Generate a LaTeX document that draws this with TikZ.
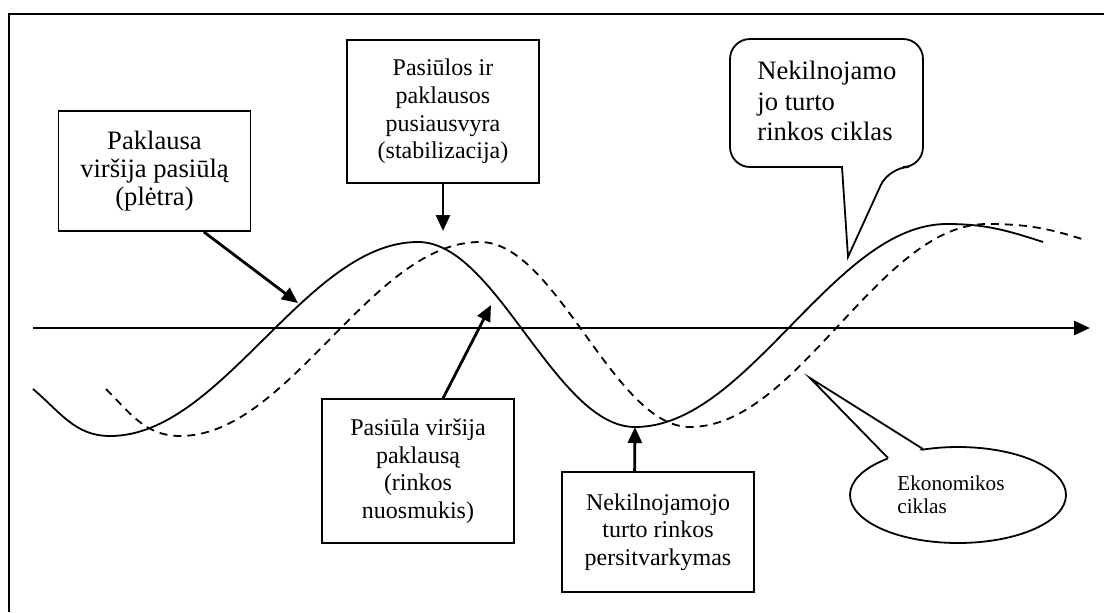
\documentclass[tikz,border=0pt]{standalone}
\usepackage{fontspec}
\setmainfont{Liberation Serif}
\usetikzlibrary{arrows.meta,shapes.geometric}

\begin{document}
\begin{tikzpicture}[x=0.5pt,y=-0.5pt,
	riq/.style={draw,line width=0.9pt,minimum width=96pt,align=center,inner sep=0pt},
	freccia/.style={line width=1.4pt,-{Triangle[length=8pt,width=7pt]}},
	onda/.style={line width=0.9pt}]
	\useasboundingbox (0,0) rectangle (1104,612);
	\draw[line width=1pt] (9,612) -- (9,14) -- (1104,14);
	% asse
	\coordinate (a0) at (33,328);
	\coordinate (a1) at (1090,328);
	\draw[freccia] (a0) -- (a1);
	% ciclo immobiliare
	\draw[onda] (33,389) to[out=-40,in=180] (110,436) cos (264,339) sin (418,242) cos (526,334.5) sin (635,427) cos (791,325.5) sin (947,224) to[out=0,in=162] (1043,242);
	% ciclo economico
	\draw[onda,dash pattern=on 4pt off 3pt] (106,389) to[out=-45,in=180] (180,436) cos (330,339) sin (480,242) cos (585,334.5) sin (690,427) cos (838.5,325.5) sin (987,224) to[out=0,in=162] (1085,240);
	% riquadri
	\node[riq,minimum height=60pt,font=\fontsize{13.3}{13.9}\selectfont] (paklausa) at (154.5,171) {Paklausa\\viršija pasiūlą\\(plėtra)};
	\node[riq,minimum height=71.5pt,font=\fontsize{12}{13.8}\selectfont] (pusiausvyra) at (443,111.5) {Pasiūlos ir\\paklausos\\pusiausvyra\\(stabilizacija)};
	\node[riq,minimum height=72pt,font=\fontsize{12}{13.8}\selectfont] (nuosmukis) at (418,471) {Pasiūla viršija\\paklausą\\(rinkos\\nuosmukis)};
	\node[riq,minimum height=60pt,font=\fontsize{12}{13.8}\selectfont] (persitvarkymas) at (658,532) {Nekilnojamojo\\turto rinkos\\persitvarkymas};
	% frecce
	\coordinate (p1) at (298,303);
	\coordinate (p2) at (443,231);
	\coordinate (p3) at (491,305);
	\coordinate (p4) at (635,427);
	\draw[freccia] (paklausa.-51) -- (p1);
	\draw[freccia] (pusiausvyra.south) -- (p2);
	\draw[freccia] (nuosmukis.71) -- (p3);
	\draw[freccia] (persitvarkymas.111) -- (p4);
	% fumetto
	\coordinate (nt) at (848,257);
	\draw[line width=0.9pt,rounded corners=10pt] (842,167) -- (730,167) -- (730,39) -- (923,39) -- (923,167) -- (889,167) [sharp corners] -- (nt) -- cycle;
	\node[align=left,inner sep=0pt,anchor=north west,font=\fontsize{13.3}{15.25}\selectfont] (nturtas) at (757,61) {Nekilnojamo\\jo turto\\rinkos ciklas};
	% ellisse
	\node[draw,ellipse,line width=0.9pt,minimum width=108pt,minimum height=48pt] (ekonomika) at (958,495) {};
	\coordinate (ek) at (810,378);
	\fill[white] (889,460) -- (ek) -- (922,451) -- cycle;
	\draw[line width=0.9pt] (888,458) -- (ek) -- (923,449);
	\node[align=left,inner sep=0pt,anchor=west,font=\fontsize{10.6}{11.5}\selectfont] (ekcikl) at (897,495) {Ekonomikos\\ciklas};
\end{tikzpicture}
\end{document}
